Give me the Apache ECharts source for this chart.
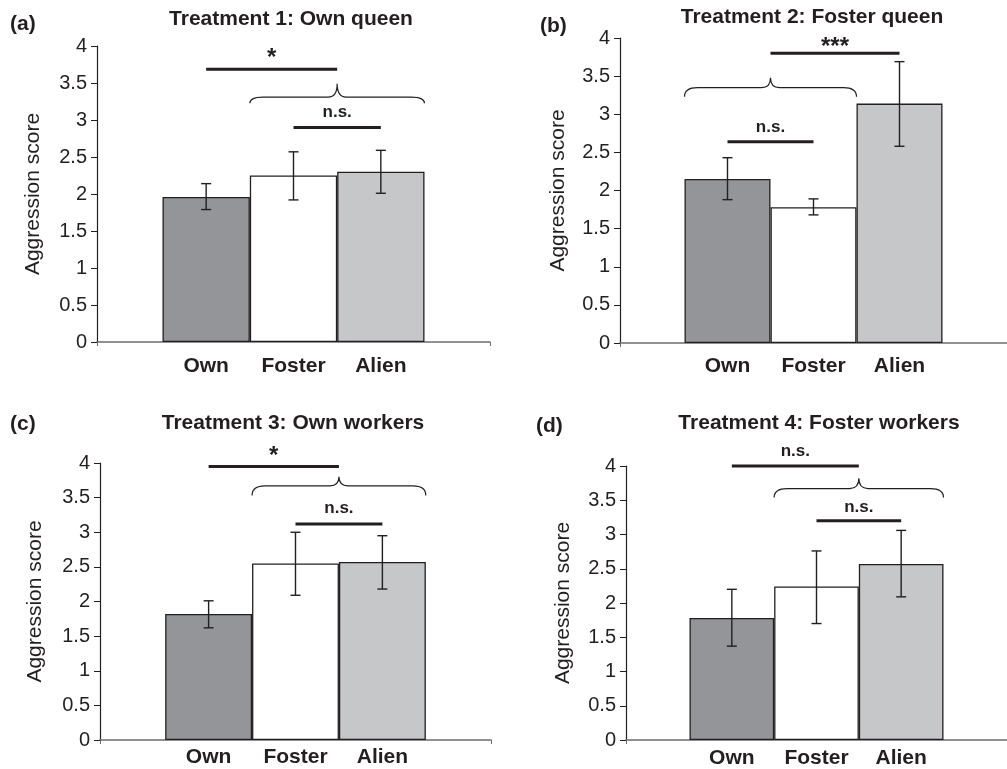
<!DOCTYPE html>
<html>
<head>
<meta charset="utf-8">
<script src="https://cdn.jsdelivr.net/npm/echarts@6/dist/echarts.min.js"></script>
<style>
  html, body { margin: 0; padding: 0; background: #fff; }
  #chart { width: 1007px; height: 769px; }
</style>
</head>
<body>
<div id="chart"></div>
<script>
const categories = ['Own', 'Foster', 'Alien'];
const titles = ['Treatment 1: Own queen', 'Treatment 2: Foster queen', 'Treatment 3: Own workers', 'Treatment 4: Foster workers'];
const tags = ['(a)', '(b)', '(c)', '(d)'];
const yAxisName = 'Aggression score';

// means and error bar ends
const meanA = [1.96, 2.25, 2.30];
const upperA = [2.14, 2.57, 2.59];
const lowerA = [1.79, 1.92, 2.01];

const meanB = [2.15, 1.78, 3.14];
const upperB = [2.43, 1.89, 3.69];
const lowerB = [1.88, 1.68, 2.58];

const meanC = [1.82, 2.55, 2.57];
const upperC = [2.01, 3.00, 2.95];
const lowerC = [1.62, 2.09, 2.18];

const meanD = [1.78, 2.24, 2.57];
const upperD = [2.20, 2.76, 3.06];
const lowerD = [1.37, 1.70, 2.09];

// significance bars: [from, to, y of line, y of text, text]; 0 = Own, 1 = Foster, 2 = Alien
const sigA = [[0, 1.5, 3.685, 3.90, '*'], [1, 2, 2.90, 3.10, 'n.s.']];
const sigB = [[0.5, 2, 3.80, 3.95, '***'], [0, 1, 2.64, 2.835, 'n.s.']];
const sigC = [[0, 1.5, 3.95, 4.17, '*'], [1, 2, 3.12, 3.35, 'n.s.']];
const sigD = [[0, 1.5, 4.0, 4.21, 'n.s.'], [1, 2, 3.20, 3.40, 'n.s.']];

// braces: [from, peak, to, y of ends, y of middle, y of peak]
const braceA = [0.5, 1.5, 2.5, 3.225, 3.31, 3.49];
const braceB = [-0.5, 0.5, 1.5, 3.23, 3.35, 3.48];
const braceC = [0.5, 1.5, 2.5, 3.53, 3.67, 3.80];
const braceD = [0.5, 1.5, 2.5, 3.54, 3.67, 3.82];

const panels = [
  { mean: meanA, upper: upperA, lower: lowerA, sig: sigA, brace: braceA },
  { mean: meanB, upper: upperB, lower: lowerB, sig: sigB, brace: braceB },
  { mean: meanC, upper: upperC, lower: lowerC, sig: sigC, brace: braceC },
  { mean: meanD, upper: upperD, lower: lowerD, sig: sigD, brace: braceD }
];

const layouts = [
  { left: 97, top: 46, width: 393, height: 296, titleX: 291, titleY: 9, tagX: 10, tagY: 14, labelGap: 14, nameGap: 53 },
  { left: 620, top: 38, width: 388, height: 305, titleX: 812, titleY: 7, tagX: 540, tagY: 16, labelGap: 13, nameGap: 51 },
  { left: 100, top: 463, width: 391, height: 277, titleX: 293, titleY: 413, tagX: 10, tagY: 414, labelGap: 7, nameGap: 54 },
  { left: 626, top: 466, width: 390, height: 274, titleX: 819, titleY: 413, tagX: 536, tagY: 416, labelGap: 8, nameGap: 52 }
];

const FONT = '"Liberation Sans", Arial, Helvetica, sans-serif';
const INK = '#231f20';
const barColors = ['#939598', '#ffffff', '#c6c7c9'];
const GAP = 1 / 3;

// pixel position of a bar slot (0..2, fractions allowed) at value y
function slotPx(api, pos, y) {
  const c = api.coord([0, y]);
  const band = api.size([1, 0])[0];
  const bw = band * (1 - GAP) / categories.length;
  return [c[0] + (pos - (categories.length - 1) / 2) * bw, c[1]];
}

const chart = echarts.init(document.getElementById('chart'));

const grid = [], xAxis = [], yAxis = [], series = [], title = [];

panels.forEach((p, k) => {
  const L = layouts[k];
  grid.push({ left: L.left, top: L.top, width: L.width, height: L.height });
  xAxis.push({
    type: 'category', gridIndex: k, data: [''],
    axisLine: { lineStyle: { color: '#6d6e71', width: 1.5 } },
    axisTick: { show: true, length: 4, lineStyle: { color: '#6d6e71' } },
    axisLabel: { show: false }
  });
  yAxis.push({
    type: 'value', gridIndex: k, min: 0, max: 4, interval: 0.5,
    name: yAxisName, nameLocation: 'middle', nameGap: L.nameGap,
    nameTextStyle: { fontSize: 21, color: INK, fontFamily: FONT },
    axisLine: { show: true, lineStyle: { color: INK, width: 1.2 } },
    axisTick: { show: true, length: 6, lineStyle: { color: INK } },
    axisLabel: { fontSize: 20, color: INK, fontFamily: FONT, margin: 10 },
    splitLine: { show: false }
  });

  categories.forEach((cat, i) => {
    series.push({
      type: 'bar', name: cat, xAxisIndex: k, yAxisIndex: k,
      data: [p.mean[i]],
      barGap: '0%', barCategoryGap: (GAP * 100) + '%',
      itemStyle: { color: barColors[i], borderColor: INK, borderWidth: 1.3 },
      label: {
        show: true, position: 'bottom', distance: L.labelGap, formatter: '{a}',
        fontSize: 21, fontWeight: 'bold', color: INK, fontFamily: FONT
      },
      emphasis: { disabled: true }
    });
  });

  // error bars
  series.push({
    type: 'custom', xAxisIndex: k, yAxisIndex: k, z: 5,
    data: p.mean.map((m, i) => [0, p.upper[i], p.lower[i], i]),
    encode: { x: 0, y: [1, 2] },
    renderItem(params, api) {
      const i = api.value(3);
      const a = slotPx(api, i, api.value(1));
      const b = slotPx(api, i, api.value(2));
      const cap = 5;
      const style = { stroke: INK, lineWidth: 1.4 };
      return {
        type: 'group', children: [
          { type: 'line', shape: { x1: a[0], y1: a[1], x2: b[0], y2: b[1] }, style },
          { type: 'line', shape: { x1: a[0] - cap, y1: a[1], x2: a[0] + cap, y2: a[1] }, style },
          { type: 'line', shape: { x1: b[0] - cap, y1: b[1], x2: b[0] + cap, y2: b[1] }, style }
        ]
      };
    }
  });

  // significance lines with labels
  series.push({
    type: 'custom', xAxisIndex: k, yAxisIndex: k, z: 6, clip: false,
    data: p.sig.map(s => [0, s[2], s[0], s[1], s[3]]),
    encode: { x: 0, y: 1 },
    renderItem(params, api) {
      const s = p.sig[params.dataIndex];
      const a = slotPx(api, api.value(2), api.value(1));
      const b = slotPx(api, api.value(3), api.value(1));
      const t = slotPx(api, (api.value(2) + api.value(3)) / 2, api.value(4));
      const star = s[4].indexOf('*') >= 0;
      const fs = star ? 24 : 17;
      return {
        type: 'group', children: [
          { type: 'line', shape: { x1: a[0], y1: a[1], x2: b[0], y2: b[1] }, style: { stroke: INK, lineWidth: 3 } },
          {
            type: 'text', x: t[0], y: t[1] + (star ? fs * 0.22 : 0),
            style: { text: s[4], align: 'center', verticalAlign: 'middle', fill: INK,
              fontSize: fs, fontWeight: 'bold', fontFamily: FONT }
          }
        ]
      };
    }
  });

  // curly brace over a pair of bars
  series.push({
    type: 'custom', xAxisIndex: k, yAxisIndex: k, z: 6, clip: false,
    data: [[0, p.brace[4], p.brace[0], p.brace[1], p.brace[2], p.brace[3], p.brace[5]]],
    encode: { x: 0, y: 1 },
    renderItem(params, api) {
      const x0 = slotPx(api, api.value(2), 0)[0];
      const xm = slotPx(api, api.value(3), 0)[0];
      const x1 = slotPx(api, api.value(4), 0)[0];
      const yE = api.coord([0, api.value(5)])[1];
      const yM = api.coord([0, api.value(1)])[1];
      const yP = api.coord([0, api.value(6)])[1];
      const rE = 13, rP = 9;
      const d = `M${x0},${yE} Q${x0},${yM} ${x0 + rE},${yM} L${xm - rP},${yM} Q${xm},${yM} ${xm},${yP} ` +
        `Q${xm},${yM} ${xm + rP},${yM} L${x1 - rE},${yM} Q${x1},${yM} ${x1},${yE}`;
      return { type: 'path', shape: { pathData: d }, style: { stroke: INK, lineWidth: 1.2, fill: null } };
    }
  });

  title.push({
    text: titles[k], left: L.titleX, top: L.titleY, textAlign: 'center', padding: 0,
    textStyle: { fontSize: 21, fontWeight: 'bold', color: INK, fontFamily: FONT }
  });
  title.push({
    text: tags[k], left: L.tagX, top: L.tagY, padding: 0,
    textStyle: { fontSize: 21, fontWeight: 'bold', color: INK, fontFamily: FONT }
  });
});

chart.setOption({
  animation: false,
  backgroundColor: '#fff',
  title, grid, xAxis, yAxis, series
});
</script>
</body>
</html>
